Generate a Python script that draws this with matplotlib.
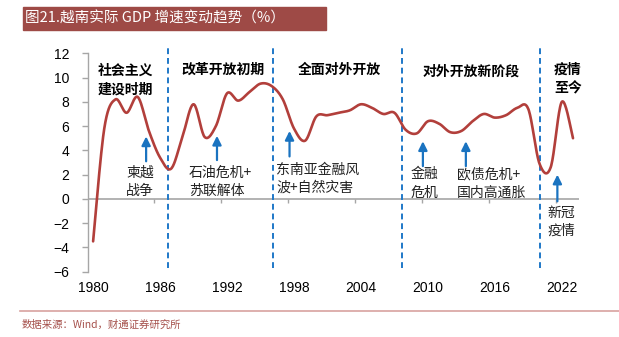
import numpy as np
import matplotlib
matplotlib.use("Agg")
import matplotlib.pyplot as plt

plt.rcParams['font.family'] = ['Liberation Sans', 'Noto Sans CJK SC', 'DejaVu Sans']
CJK = ['Noto Sans CJK SC', 'DejaVu Sans']

# 越南实际GDP增速（%），1980-2023
years = list(range(1980, 2024))
gdp = [-3.5, 5.8, 8.2, 7.1, 8.4, 5.6, 3.4, 2.5, 5.1, 7.8,
       5.1, 6.0, 8.7, 8.1, 8.8, 9.5, 9.3, 8.2, 5.8, 4.8,
       6.8, 6.9, 7.1, 7.3, 7.8, 7.5, 7.0, 7.1, 5.7, 5.4,
       6.4, 6.2, 5.5, 5.6, 6.4, 7.0, 6.7, 6.9, 7.5, 7.4,
       2.9, 2.6, 8.0, 5.0]
tick_years = [1980, 1986, 1992, 1998, 2004, 2010, 2016, 2022]
y_ticks = [-6, -4, -2, 0, 2, 4, 6, 8, 10, 12]

# 阶段分界线
phase_breaks = [1986.75, 1996.1, 2007.7, 2020.0]
phases = [("社会主义\n建设时期", 1982.9, 9.8),
          ("改革开放初期", 1991.6, 10.64),
          ("全面对外开放", 2002.1, 10.64),
          ("对外开放新阶段", 2013.9, 10.5),
          ("疫情\n至今", 2022.55, 9.86)]
# 事件标注：文字, 文字x, 文字y, 对齐, 箭头x, 箭头底, 箭头顶
events = [("柬越\n战争", 1984.2, 1.38, 'center', 1984.75, 3.1, 5.15),
          ("石油危机+\n苏联解体", 1988.6, 1.38, 'left', 1991.1, 3.2, 5.2),
          ("东南亚金融风\n波+自然灾害", 1996.43, 1.67, 'left', 1997.6, 3.5, 5.6),
          ("金融\n危机", 2009.7, 1.26, 'center', 2009.55, 2.7, 4.75),
          ("欧债危机+\n国内高通胀", 2012.6, 1.26, 'left', 2013.4, 2.7, 4.75),
          ("新冠\n疫情", 2021.92, -1.9, 'center', 2021.6, -0.2, 2.0)]


def smooth(x, y, n=20):
    # 平滑曲线（三次贝塞尔，经过每个数据点）
    x = np.asarray(x, float)
    y = np.asarray(y, float)
    px = np.concatenate([[x[0]], x, [x[-1]]])
    py = np.concatenate([[y[0]], y, [y[-1]]])
    xs, ys = [], []
    t = np.linspace(0, 1, n, endpoint=False)
    for i in range(1, len(px) - 2):
        p0 = np.array([px[i], py[i]])
        p3 = np.array([px[i + 1], py[i + 1]])
        p1 = p0 + (np.array([px[i + 1], py[i + 1]]) - np.array([px[i - 1], py[i - 1]])) / 6
        p2 = p3 - (np.array([px[i + 2], py[i + 2]]) - np.array([px[i], py[i]])) / 6
        b = ((1 - t) ** 3)[:, None] * p0 + (3 * (1 - t) ** 2 * t)[:, None] * p1 \
            + (3 * (1 - t) * t ** 2)[:, None] * p2 + (t ** 3)[:, None] * p3
        xs.extend(b[:, 0])
        ys.extend(b[:, 1])
    xs.append(x[-1])
    ys.append(y[-1])
    return np.array(xs), np.array(ys)


fig = plt.figure(figsize=(6.19, 3.37), dpi=100)
ax = fig.add_axes([0.1414, 0.1938, 0.7933, 0.648])

sx, sy = smooth(years, gdp)
ax.plot(sx, sy, color='#b23f3b', lw=1.9, zorder=3, solid_capstyle='round')

ax.set_xlim(1979.5, 2023.5)
ax.set_ylim(-6, 12)

for s in ['top', 'right', 'bottom']:
    ax.spines[s].set_visible(False)
ax.spines['left'].set_color('#a6a6a6')
ax.spines['left'].set_linewidth(1.0)
ax.set_yticks(y_ticks)
ax.tick_params(axis='y', length=4, width=1.0, color='#a6a6a6', pad=9, labelsize=10)

# 年份标签放在底部，零轴单独画
ax.set_xticks(tick_years)
ax.set_xticklabels([str(y) for y in tick_years])
ax.tick_params(axis='x', length=0, pad=7, labelsize=10)
ax.axhline(0, color='#a6a6a6', lw=1.2, zorder=1)
ax.vlines([y - 0.5 for y in tick_years[1:]], -0.33, 0, color='#a6a6a6', lw=1.0, zorder=1)

for xb in phase_breaks:
    ax.plot([xb, xb], [-5.68, 12.56], color='#1f78c8', lw=1.4, ls=(0, (3, 2)),
            clip_on=False, zorder=2)

for txt, x, y in phases:
    ax.text(x, y, txt, family=CJK, fontsize=10, fontweight='bold', ha='center', va='center',
            linespacing=1.4, zorder=4)

for txt, tx, ty, ha, axx, y0, y1 in events:
    ax.text(tx, ty, txt, family=CJK, fontsize=10, ha=ha, va='center', linespacing=1.4,
            color='#222222', zorder=4)
    ax.annotate('', xy=(axx, y1), xytext=(axx, y0),
                arrowprops=dict(arrowstyle='-|>', color='#1a73c0', lw=1.6,
                                mutation_scale=13, shrinkA=0, shrinkB=0))

# 标题栏
fig.patches.append(plt.Rectangle((23 / 619, 1 - 30 / 337), (326 - 23) / 619, 23 / 337,
                                 transform=fig.transFigure, color='#9e4a46', zorder=0))
fig.text(25 / 619, 1 - 18.5 / 337, "图21.越南实际 GDP 增速变动趋势（%）", family=CJK,
         fontsize=10.5, color='white', va='center', ha='left')

# 底部来源
fig.add_artist(plt.Line2D([20 / 619, 1], [1 - 310.5 / 337] * 2, color='#d8a29f', lw=1.2,
                          transform=fig.transFigure))
fig.text(22 / 619, 1 - 325 / 337, "数据来源：Wind，财通证券研究所", family=CJK,
         fontsize=7.5, color='#a5504b', va='center', ha='left')

fig.savefig('out.png', dpi=100)
